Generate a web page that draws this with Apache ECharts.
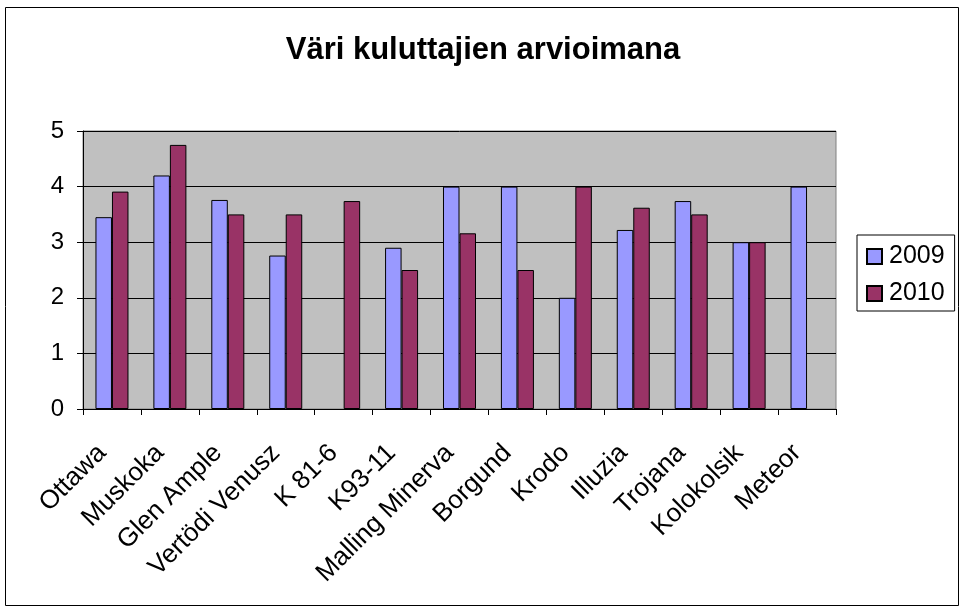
<!DOCTYPE html>
<html>
<head>
<meta charset="utf-8">
<script src="https://cdn.jsdelivr.net/npm/echarts@6/dist/echarts.min.js"></script>
<style>
  html, body { margin: 0; padding: 0; background: #ffffff; }
  #chart { width: 962px; height: 608px; }
</style>
</head>
<body>
<div id="chart"></div>
<script>
// Lajikkeet ja arviot (asteikko 0–5)
const categories = ['Ottawa', 'Muskoka', 'Glen Ample', 'Vertödi Venusz', 'K 81-6', 'K93-11',
  'Malling Minerva', 'Borgund', 'Krodo', 'Illuzia', 'Trojana', 'Kolokolsik', 'Meteor'];
const values2009 = [3.45, 4.2, 3.76, 2.76, null, 2.9, 4.0, 4.0, 2.0, 3.22, 3.74, 3.0, 4.0];
const values2010 = [3.91, 4.75, 3.5, 3.5, 3.74, 2.5, 3.16, 2.5, 4.0, 3.62, 3.5, 3.0, null];
const seriesNames = ['2009', '2010'];
const yTicks = [0, 1, 2, 3, 4, 5];

const FONT = '"Liberation Sans", Arial, sans-serif';

const chart = echarts.init(document.getElementById('chart'), null, { renderer: 'canvas' });

chart.setOption({
  backgroundColor: '#ffffff',
  animation: false,
  textStyle: { fontFamily: FONT, color: '#000000' },
  title: {
    text: 'Väri kuluttajien arvioimana',
    left: 478,
    textAlign: 'center',
    top: 30,
    textStyle: { fontFamily: FONT, fontSize: 31, fontWeight: 'bold', color: '#000000' }
  },
  graphic: [{
    type: 'rect',
    shape: { x: 5.5, y: 7.5, width: 953, height: 598 },
    style: { fill: 'none', stroke: '#000000', lineWidth: 1 },
    silent: true,
    z: -1
  }],
  legend: {
    orient: 'vertical',
    left: 857,
    top: 235,
    padding: [9, 10, 5, 9],
    itemGap: 12,
    itemWidth: 15,
    itemHeight: 15,
    borderColor: '#000000',
    borderWidth: 1,
    icon: 'rect',
    textStyle: { fontFamily: FONT, fontSize: 25, color: '#000000', padding: [0, 0, 0, 2] },
    data: seriesNames
  },
  grid: {
    left: 83,
    right: 126,
    top: 131,
    bottom: 199,
    show: true,
    backgroundColor: '#c0c0c0',
    borderColor: '#808080',
    borderWidth: 1,
    containLabel: false
  },
  xAxis: {
    type: 'category',
    data: categories,
    boundaryGap: true,
    axisLine: { lineStyle: { color: '#000000', width: 1 } },
    axisTick: { show: true, alignWithLabel: false, length: 6, lineStyle: { color: '#000000' } },
    axisLabel: {
      rotate: 45,
      interval: 0,
      margin: 30,
      padding: [0, 14, 0, 0],
      fontFamily: FONT,
      fontSize: 26,
      color: '#000000'
    },
    splitLine: { show: false }
  },
  yAxis: {
    type: 'value',
    min: yTicks[0],
    max: yTicks[yTicks.length - 1],
    interval: 1,
    axisLine: { show: true, lineStyle: { color: '#000000', width: 1 } },
    axisTick: { show: true, inside: false, length: 6, lineStyle: { color: '#000000' } },
    axisLabel: { margin: 19, fontFamily: FONT, fontSize: 24, color: '#000000' },
    splitLine: { show: true, lineStyle: { color: '#000000', width: 1 } }
  },
  series: [
    {
      name: seriesNames[0],
      type: 'bar',
      data: values2009,
      barGap: '0%',
      barCategoryGap: '43%',
      itemStyle: { color: '#9999ff', borderColor: '#000000', borderWidth: 1 }
    },
    {
      name: seriesNames[1],
      type: 'bar',
      data: values2010,
      barGap: '0%',
      barCategoryGap: '43%',
      itemStyle: { color: '#993366', borderColor: '#000000', borderWidth: 1 }
    }
  ]
});
</script>
</body>
</html>
